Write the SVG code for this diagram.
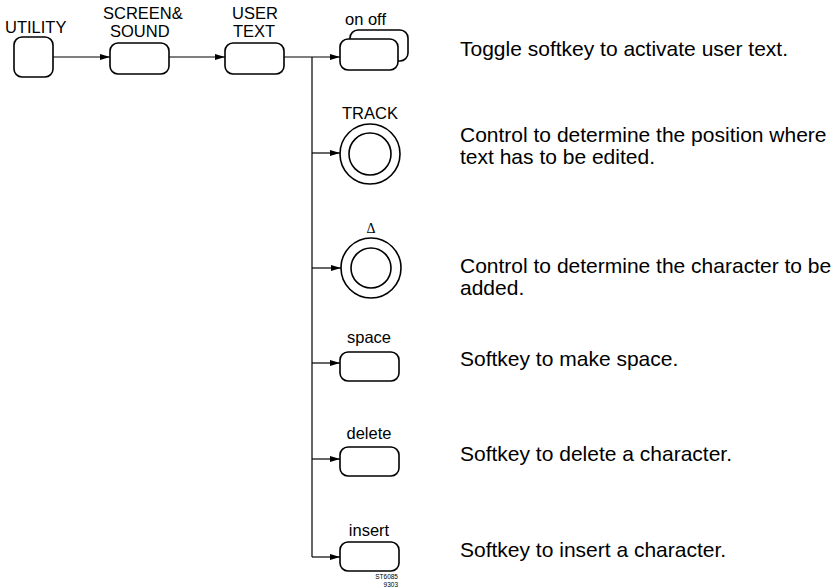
<svg xmlns="http://www.w3.org/2000/svg" width="838" height="588" viewBox="0 0 838 588">
<style>
.box{fill:#fff;stroke:#000;stroke-width:1.6}
.ln{fill:none;stroke:#000;stroke-width:1.2}
.lbl{font-family:"Liberation Sans",Arial,sans-serif;font-size:16.5px;fill:#000}
.desc{font-family:"Liberation Sans",Arial,sans-serif;font-size:21px;fill:#000}
.code{font-family:"Liberation Sans",Arial,sans-serif;font-size:6.5px;fill:#000;text-anchor:end}
</style>
<defs>
<marker id="ah" markerUnits="userSpaceOnUse" markerWidth="11" markerHeight="7" refX="10" refY="3.5" orient="auto">
<path d="M0,0.5 L10,3.5 L0,6.5 z" fill="#000"/>
</marker>
</defs>
<rect width="838" height="588" fill="#fff"/>
<g id="connectors">
<line class="ln" x1="53" y1="57" x2="110" y2="57" marker-end="url(#ah)"/>
<line class="ln" x1="169" y1="57" x2="225" y2="57" marker-end="url(#ah)"/>
<line class="ln" x1="284" y1="57" x2="340" y2="57" marker-end="url(#ah)"/>
<line class="ln" x1="312" y1="57" x2="312" y2="557"/>
<line class="ln" x1="312" y1="153" x2="340" y2="153" marker-end="url(#ah)"/>
<line class="ln" x1="312" y1="268" x2="341" y2="268" marker-end="url(#ah)"/>
<line class="ln" x1="312" y1="363" x2="340" y2="363" marker-end="url(#ah)"/>
<line class="ln" x1="312" y1="459" x2="340" y2="459" marker-end="url(#ah)"/>
<line class="ln" x1="312" y1="557" x2="340" y2="557" marker-end="url(#ah)"/>
</g>
<g id="utility">
<text class="lbl" x="5" y="33">UTILITY</text>
<rect class="box" x="14" y="37" width="39" height="40" rx="8"/>
</g>
<g id="screen-sound">
<text class="lbl" x="103" y="19">SCREEN&amp;</text>
<text class="lbl" x="110" y="37">SOUND</text>
<rect class="box" x="110" y="43" width="59" height="31" rx="8"/>
</g>
<g id="user-text">
<text class="lbl" x="232" y="19">USER</text>
<text class="lbl" x="233" y="37">TEXT</text>
<rect class="box" x="225" y="43" width="59" height="31" rx="8"/>
</g>
<g id="on-off">
<text class="lbl" x="345" y="25">on off</text>
<rect class="box" x="350" y="30" width="58" height="31" rx="8"/>
<rect class="box" x="340" y="39" width="58" height="31" rx="8"/>
<text class="desc" x="460" y="56">Toggle softkey to activate user text.</text>
</g>
<g id="track">
<text class="lbl" x="370" y="119" text-anchor="middle">TRACK</text>
<circle class="box" cx="370" cy="154" r="30"/>
<circle class="box" cx="370" cy="154" r="21"/>
<text class="desc" x="460" y="142">Control to determine the position where</text>
<text class="desc" x="460" y="164">text has to be edited.</text>
</g>
<g id="delta">
<text x="371" y="233" text-anchor="middle" style="font-family:'Liberation Serif','Times New Roman',serif;font-size:14px">Δ</text>
<circle class="box" cx="371" cy="268" r="30"/>
<circle class="box" cx="371" cy="268" r="20"/>
<text class="desc" x="460" y="273">Control to determine the character to be</text>
<text class="desc" x="460" y="295">added.</text>
</g>
<g id="space">
<text class="lbl" x="369" y="343" text-anchor="middle">space</text>
<rect class="box" x="340" y="352" width="59" height="29" rx="8"/>
<text class="desc" x="460" y="366">Softkey to make space.</text>
</g>
<g id="delete">
<text class="lbl" x="369" y="439" text-anchor="middle">delete</text>
<rect class="box" x="340" y="447" width="59" height="29" rx="8"/>
<text class="desc" x="460" y="461">Softkey to delete a character.</text>
</g>
<g id="insert">
<text class="lbl" x="369" y="536" text-anchor="middle">insert</text>
<rect class="box" x="340" y="542" width="59" height="29" rx="8"/>
<text class="desc" x="460" y="557">Softkey to insert a character.</text>
</g>
<g id="code">
<text class="code" x="398" y="579">ST6085</text>
<text class="code" x="398" y="587">9303</text>
</g>
</svg>
